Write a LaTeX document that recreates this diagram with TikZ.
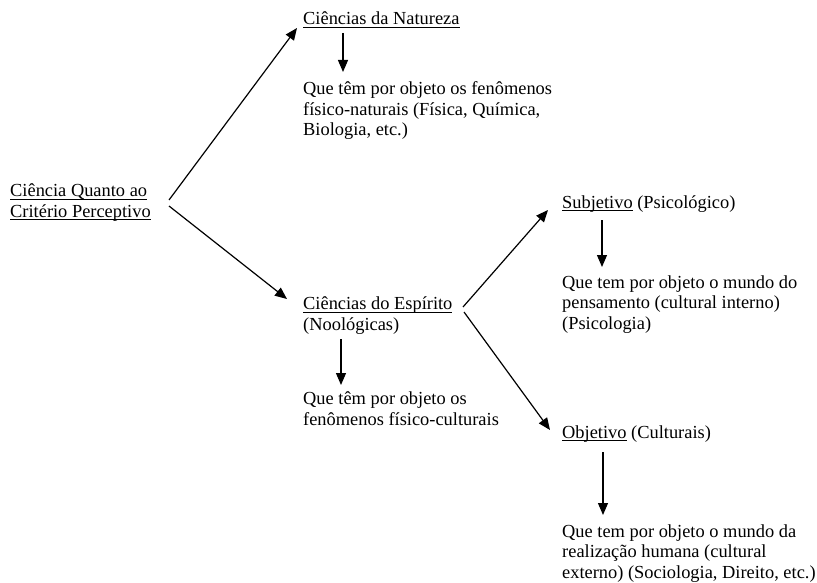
\documentclass[tikz,border=0pt]{standalone}
\usepackage{fontspec}
\setmainfont{Liberation Serif}
\usetikzlibrary{calc, arrows.meta}

\newcommand{\undl}[1]{\setbox0\hbox{#1}\rlap{\rule[-3pt]{\wd0}{0.9pt}}\box0\relax}

\begin{document}
\begin{tikzpicture}[x=1pt, y=-1pt,
    tx/.style={inner sep=0pt, anchor=base west, align=left, font=\fontsize{18.4}{20.5}\selectfont},
    ar/.style={line width=1.2pt, -{Triangle[length=12pt, width=10pt]}}]
    \useasboundingbox (0,0) rectangle (817,583);

    % base = linha de base da ultima linha
    \node[tx] (root) at (10,217) {\undl{Ciência Quanto ao}\\\undl{Critério Perceptivo}};

    \node[tx] (nat)  at (303,25)  {\undl{Ciências da Natureza}};
    \node[tx] (natd) at (303,136) {Que têm por objeto os fenômenos\\físico-naturais (Física, Química,\\Biologia, etc.)};

    \node[tx] (esp)  at (303,330) {\undl{Ciências do Espírito}\\(Noológicas)};
    \node[tx] (espd) at (303,425) {Que têm por objeto os\\fenômenos físico-culturais};

    \node[tx] (subj)  at (562,208) {\undl{Subjetivo} (Psicológico)};
    \node[tx] (subjd) at (562,329) {Que tem por objeto o mundo do\\pensamento (cultural interno)\\(Psicologia)};

    \node[tx] (obj)  at (562,438) {\undl{Objetivo} (Culturais)};
    \node[tx] (objd) at (562,578) {Que tem por objeto o mundo da\\realização humana (cultural\\externo) (Sociologia, Direito, etc.)};

    % ramos principais
    \draw[ar] ($(root.base west)+(159,-17)$) -- ($(nat.base west)+(-6,3)$);
    \draw[ar] ($(root.base west)+(159,-11)$) -- ($(esp.base west)+(-16,-31)$);
    \draw[ar] ($(esp.base west)+(160,-23)$) -- ($(subj.base west)+(-14,2)$);
    \draw[ar] ($(esp.base west)+(161,-18)$) -- ($(obj.base west)+(-12,-8)$);

    % descricoes
    \draw[ar] ($(nat.base west)+(40,8)$) -- ($(natd.base west)+(40,-64)$);
    \draw[ar] ($(esp.base west)+(38,9)$) -- ($(espd.base west)+(38,-40)$);
    \draw[ar] ($(subj.base west)+(40,12)$) -- ($(subjd.base west)+(40,-62)$);
    \draw[ar] ($(obj.base west)+(41,14)$) -- ($(objd.base west)+(41,-63)$);
\end{tikzpicture}
\end{document}
